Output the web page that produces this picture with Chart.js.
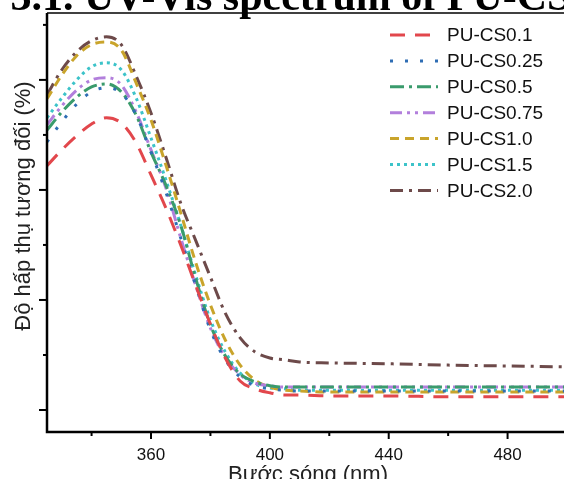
<!DOCTYPE html>
<html>
<head>
<meta charset="utf-8">
<script src="https://cdn.jsdelivr.net/npm/chart.js@4.4.1/dist/chart.umd.min.js"></script>
<style>
  html, body { margin: 0; padding: 0; background: #fff; overflow: hidden; }
  #wrap { width: 564px; height: 479px; overflow: hidden; }
</style>
</head>
<body>
<div id="wrap"><canvas id="uvChart" width="600" height="479"></canvas></div>
<script>
// wavelength (nm)
const wavelengths = [325, 330, 335, 340, 345, 350, 355, 360, 365, 370, 375, 380, 385, 390, 395, 400, 405, 410, 420, 440, 460, 480, 500];

// relative absorbance (arbitrary %, no scale labels on the axis)
const cs01 = [55.5, 59.1, 62.3, 65.0, 66.4, 65.2, 60.7, 53.4, 45.9, 37.5, 28.4, 19.5, 11.8, 6.6, 4.8, 3.9, 3.4, 3.4, 3.2, 3.2, 3.0, 3.0, 3.0];
const cs025 = [60.9, 65.5, 69.5, 72.3, 73.2, 72.0, 67.0, 58.6, 49.5, 39.1, 28.4, 18.2, 11.4, 7.5, 5.5, 4.8, 4.5, 4.3, 4.3, 4.3, 4.3, 4.3, 4.3];
const cs05 = [63.6, 67.7, 71.1, 73.4, 74.1, 72.3, 67.0, 58.6, 51.1, 42.0, 30.0, 19.3, 12.3, 8.2, 6.4, 5.5, 5.2, 5.2, 5.2, 5.2, 5.2, 5.2, 5.2];
const cs075 = [64.8, 69.1, 72.7, 75.0, 75.5, 73.9, 67.7, 59.1, 50.5, 39.1, 28.4, 18.6, 12.0, 8.0, 6.1, 5.5, 5.2, 5.2, 5.2, 5.2, 5.2, 5.2, 5.2];
const cs10 = [70.7, 76.1, 80.5, 83.0, 83.6, 81.8, 74.3, 65.9, 55.7, 44.8, 33.6, 23.9, 15.9, 10.2, 6.8, 5.2, 4.5, 4.3, 4.1, 4.1, 4.1, 4.1, 4.1];
const cs15 = [66.4, 70.9, 75.0, 78.0, 78.9, 77.3, 70.9, 61.8, 52.3, 42.0, 30.7, 20.5, 13.2, 8.4, 5.9, 5.0, 4.8, 4.5, 4.5, 4.5, 4.5, 4.5, 4.5];
const cs20 = [71.6, 77.3, 81.4, 83.9, 84.8, 83.0, 75.9, 67.5, 57.5, 47.0, 38.6, 30.2, 22.0, 16.4, 13.2, 11.8, 11.4, 10.9, 10.7, 10.5, 10.2, 10.0, 9.8];

const seriesNames = ["PU-CS0.1", "PU-CS0.25", "PU-CS0.5", "PU-CS0.75", "PU-CS1.0", "PU-CS1.5", "PU-CS2.0"];

const xMajorTicks = [360, 400, 440, 480];
const xMinorTicks = [340, 380, 420, 460, 500];
const yMajorTicks = [0, 25, 50, 75];
const yMinorTicks = [12.5, 37.5, 62.5, 87.5];

const colors = ["#e2474c", "#2e6db4", "#3a9b6c", "#b27fdc", "#c9a42b", "#3cc3c9", "#6d4a4a"];
const dashes = [
  [15, 10],
  [3, 12],
  [14, 5, 3, 5],
  [12, 5, 3, 5, 3, 5],
  [9, 6],
  [3, 4],
  [13, 6, 3, 6],
];

const allSeries = [cs01, cs025, cs05, cs075, cs10, cs15, cs20];

function toPoints(values) {
  return values.map((v, i) => ({ x: wavelengths[i], y: v }));
}

const datasets = allSeries.map((values, i) => ({
  label: seriesNames[i],
  data: toPoints(values),
  borderColor: colors[i],
  borderWidth: 3,
  borderDash: dashes[i],
  pointRadius: 0,
  fill: false,
  cubicInterpolationMode: "monotone",
}));

// frame, tick marks, titles and legend
const decorations = {
  id: "decorations",
  afterDraw(chart) {
    const { ctx, chartArea: a, scales } = chart;
    const x = scales.x;
    const y = scales.y;
    ctx.save();
    ctx.strokeStyle = "#000";

    ctx.lineWidth = 1.5;
    ctx.beginPath();
    ctx.moveTo(a.left, a.top);
    ctx.lineTo(a.right, a.top);
    ctx.stroke();

    ctx.lineWidth = 2.5;
    ctx.beginPath();
    ctx.moveTo(a.left, a.top);
    ctx.lineTo(a.left, a.bottom);
    ctx.lineTo(a.right, a.bottom);
    ctx.stroke();

    ctx.lineWidth = 2;
    xMajorTicks.forEach((v) => {
      const px = x.getPixelForValue(v);
      ctx.beginPath(); ctx.moveTo(px, a.bottom); ctx.lineTo(px, a.bottom + 7); ctx.stroke();
    });
    xMinorTicks.forEach((v) => {
      const px = x.getPixelForValue(v);
      ctx.beginPath(); ctx.moveTo(px, a.bottom); ctx.lineTo(px, a.bottom + 4); ctx.stroke();
    });
    yMajorTicks.forEach((v) => {
      const py = y.getPixelForValue(v);
      ctx.beginPath(); ctx.moveTo(a.left - 8, py); ctx.lineTo(a.left, py); ctx.stroke();
    });
    yMinorTicks.forEach((v) => {
      const py = y.getPixelForValue(v);
      ctx.beginPath(); ctx.moveTo(a.left - 4, py); ctx.lineTo(a.left, py); ctx.stroke();
    });

    // clipped title of the figure above the plot
    ctx.fillStyle = "#000";
    ctx.font = 'bold 42px "Liberation Serif"';
    ctx.textAlign = "left";
    ctx.textBaseline = "alphabetic";
    const lead = "Hình 3.1. ";
    ctx.fillText(lead + "UV-Vis spectrum of PU-CS", 84 - ctx.measureText(lead).width, 10);

    // axis titles
    ctx.fillStyle = "#222";
    ctx.font = '22px "Liberation Sans"';
    ctx.textAlign = "center";
    ctx.fillText("Bước sóng (nm)", 308, 481);
    ctx.save();
    ctx.translate(30, 206);
    ctx.rotate(-Math.PI / 2);
    ctx.fillText("Độ hấp thụ tương đối (%)", 0, 0);
    ctx.restore();

    // legend
    ctx.font = '19px "Liberation Sans"';
    ctx.textAlign = "left";
    ctx.textBaseline = "middle";
    chart.data.datasets.forEach((ds, i) => {
      const ry = 35 + i * 25.9;
      ctx.save();
      ctx.strokeStyle = ds.borderColor;
      ctx.lineWidth = ds.borderWidth;
      ctx.setLineDash(ds.borderDash);
      ctx.beginPath();
      ctx.moveTo(390, ry);
      ctx.lineTo(438, ry);
      ctx.stroke();
      ctx.restore();
      ctx.fillStyle = "#111";
      ctx.fillText(ds.label, 447, ry + 1);
    });
    ctx.restore();
  },
};

new Chart(document.getElementById("uvChart"), {
  type: "line",
  data: { datasets },
  options: {
    responsive: false,
    animation: false,
    layout: { padding: { left: 47, right: 33, top: 13, bottom: 0 } },
    plugins: { legend: { display: false }, tooltip: { enabled: false } },
    scales: {
      x: {
        type: "linear",
        min: 325,
        max: 500,
        grid: { display: false, drawTicks: false },
        border: { display: false },
        afterBuildTicks: (scale) => {
          scale.ticks = xMajorTicks.map((v) => ({ value: v }));
        },
        afterFit: (scale) => { scale.height = 47; },
        ticks: {
          padding: 13,
          color: "#111",
          font: { family: "Liberation Sans", size: 17 },
        },
      },
      y: {
        min: -5,
        max: 90.2,
        grid: { display: false, drawTicks: false },
        border: { display: false },
        ticks: { display: false },
        afterFit: (scale) => { scale.width = 0; },
      },
    },
  },
  plugins: [decorations],
});
</script>
</body>
</html>
